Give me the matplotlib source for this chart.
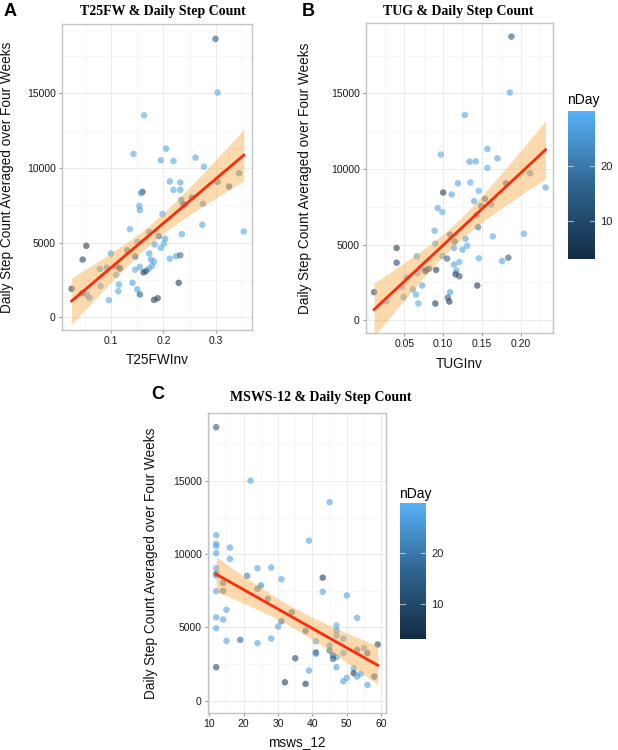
import numpy as np
import matplotlib
matplotlib.use("Agg")
import matplotlib.pyplot as plt
from matplotlib.colors import LinearSegmentedColormap, Normalize
from matplotlib.colorbar import ColorbarBase

plt.rcParams['font.family'] = ['Liberation Sans', 'DejaVu Sans']

# Panel A: T25FW inverse vs daily step count
t25_x = [0.299, 0.303, 0.163, 0.205, 0.143, 0.195, 0.219, 0.261, 0.277, 0.212,
         0.232, 0.219, 0.232, 0.160, 0.157, 0.234, 0.303, 0.344, 0.325, 0.254,
         0.236, 0.240, 0.275, 0.154, 0.155, 0.198, 0.274, 0.136, 0.353, 0.235,
         0.173, 0.191, 0.203, 0.201, 0.183, 0.195, 0.151, 0.053, 0.100, 0.046,
         0.146, 0.173, 0.176, 0.212, 0.224, 0.232, 0.182, 0.178, 0.172, 0.167,
         0.162, 0.155, 0.146, 0.117, 0.110, 0.110, 0.092, 0.079, 0.131, 0.115,
         0.114, 0.141, 0.150, 0.155, 0.080, 0.096, 0.182, 0.189, 0.229, 0.025,
         0.045, 0.054, 0.059]
t25_y = [18650, 15056, 13530, 11300, 10940, 10520, 10470, 10700, 10090, 9100,
         9030, 8540, 8540, 8400, 8310, 7870, 9080, 9660, 8760, 8020,
         7600, 7550, 7600, 7460, 7170, 6920, 6200, 5910, 5750, 5570,
         5710, 5440, 5260, 4940, 4880, 4650, 5060, 4790, 4270, 3870,
         4070, 4270, 3870, 3930, 4090, 4160, 3730, 3440, 3260, 3100,
         3010, 3370, 3190, 3280, 3420, 2850, 3330, 3240, 4490, 2200,
         1750, 2310, 1870, 1530, 2090, 1150, 1170, 1280, 2310, 1910,
         1620, 1530, 1300]
t25_n = [12, 27, 28, 27, 28, 27, 28, 27, 28, 27,
         27, 28, 27, 6, 27, 22, 18, 22, 14, 16,
         27, 15, 24, 28, 27, 28, 27, 28, 28, 28,
         24, 16, 27, 28, 27, 28, 26, 6, 27, 8,
         14, 27, 27, 28, 26, 16, 28, 27, 28, 14,
         6, 27, 28, 6, 18, 27, 24, 26, 18, 27,
         28, 27, 27, 12, 27, 28, 6, 8, 5, 8,
         14, 27, 28]

# Panel B: TUG inverse vs daily step count
tug_x = [0.188, 0.186, 0.128, 0.157, 0.097, 0.134, 0.142, 0.170, 0.157, 0.119,
         0.135, 0.181, 0.212, 0.232, 0.100, 0.111, 0.146, 0.140, 0.154, 0.149,
         0.162, 0.093, 0.099, 0.143, 0.204, 0.145, 0.089, 0.164, 0.109, 0.129,
         0.090, 0.115, 0.131, 0.125, 0.114, 0.040, 0.040, 0.099, 0.105, 0.146,
         0.176, 0.184, 0.066, 0.071, 0.079, 0.077, 0.091, 0.067, 0.053, 0.114,
         0.121, 0.117, 0.116, 0.121, 0.047, 0.073, 0.061, 0.065, 0.049, 0.027,
         0.011, 0.068, 0.090, 0.109, 0.106, 0.108, 0.144, 0.082]
tug_y = [18750, 15050, 13560, 11320, 10950, 10480, 10500, 10700, 10070, 9050,
         9100, 9050, 9710, 8770, 8440, 8310, 8550, 7870, 8020, 7540,
         7650, 7410, 7140, 6950, 5710, 6150, 5910, 5540, 5650, 5380,
         5050, 5210, 4920, 4660, 4770, 4770, 3800, 4240, 4070, 4090,
         3910, 4130, 4220, 3450, 3360, 3250, 3320, 3100, 2790, 3670,
         3850, 3270, 3030, 2900, 2200, 2290, 2040, 1690, 1520, 1250,
         1850, 1100, 1100, 1850, 1490, 1230, 2290, 3400]
tug_n = [12, 27, 27, 27, 28, 27, 27, 27, 28, 27,
         28, 16, 22, 27, 6, 27, 29, 27, 16, 18,
         26, 27, 28, 20, 28, 18, 27, 28, 16, 27,
         27, 16, 28, 27, 27, 6, 8, 27, 14, 28,
         27, 12, 27, 27, 26, 5, 6, 27, 24, 27,
         28, 27, 6, 12, 28, 27, 27, 28, 27, 27,
         8, 28, 6, 27, 12, 5, 5, 16]

# Panel C: MSWS-12 vs daily step count
msws_x = [12, 22, 45, 12, 12, 12, 12, 16, 16, 39,
          12, 12, 12, 21, 24, 28, 31, 43, 43, 14,
          14, 12, 24, 25, 27, 15, 12, 14, 12, 15,
          19, 24, 28, 30, 31, 34, 38, 12, 32, 35,
          38, 39, 41, 41, 41, 47, 47, 47, 49, 45,
          45, 46, 47, 46, 47, 49, 50, 53, 53, 55,
          56, 59, 52, 52, 53, 54, 50, 49, 58, 56]
msws_y = [18680, 15030, 13550, 11300, 10710, 10550, 10070, 10460, 9680, 10930,
          9040, 8660, 8540, 8520, 9040, 9090, 8290, 8400, 7430, 8040,
          7490, 7470, 7630, 7860, 6950, 6200, 5690, 5540, 4940, 4080,
          4150, 3920, 4240, 5060, 5420, 6040, 4760, 2280, 1250, 2890,
          1140, 2050, 4050, 3280, 3190, 5130, 4790, 4440, 4220, 3760,
          3420, 3080, 2960, 2850, 2280, 3240, 7180, 5650, 3460, 3600,
          3240, 3830, 2210, 1870, 1640, 1820, 1550, 1320, 1640, 1070]
msws_n = [12, 27, 27, 27, 27, 28, 26, 27, 27, 27,
          27, 18, 27, 20, 27, 27, 27, 6, 27, 18,
          20, 27, 20, 22, 20, 27, 27, 27, 27, 27,
          16, 27, 27, 27, 18, 18, 14, 8, 6, 8,
          6, 27, 27, 5, 27, 28, 27, 27, 27, 27,
          16, 14, 27, 14, 27, 27, 27, 27, 18, 27,
          14, 8, 27, 6, 27, 27, 27, 27, 12, 27]

ylabel = "Daily Step Count Averaged over Four Weeks"
ylim = (-850, 19650)

# ggplot default continuous colour scale
cmap = LinearSegmentedColormap.from_list("gg", ["#132B43", "#30658F", "#56B1F7"])
nmin = 3
nmax = 30
norm = Normalize(vmin=nmin, vmax=nmax)

W, H = 618, 750
fig = plt.figure(figsize=(W / 100, H / 100), dpi=100)


def box(l, t, r, b):
    return [l / W, 1 - b / H, (r - l) / W, (b - t) / H]


def panel(rect, x, y, n, xlim, xmajor, xminor, xlabels, xname, title, letter,
          title_xy, letter_xy, ylab_x, xlab_y):
    ax = fig.add_axes(box(*rect))
    x = np.array(x, float)
    y = np.array(y, float)
    ax.scatter(x, y, c=n, cmap=cmap, norm=norm, s=22, alpha=0.58,
               edgecolors='none', zorder=2)

    # linear fit with 95% confidence band
    k = len(x)
    b1, b0 = np.polyfit(x, y, 1)
    xs = np.linspace(x.min(), x.max(), 100)
    ys = b0 + b1 * xs
    resid = y - (b0 + b1 * x)
    s = np.sqrt(np.sum(resid ** 2) / (k - 2))
    se = s * np.sqrt(1 / k + (xs - x.mean()) ** 2 / np.sum((x - x.mean()) ** 2))
    ax.fill_between(xs, ys - 1.995 * se, ys + 1.995 * se, color='#FBA83C',
                    alpha=0.42, linewidth=0, zorder=3)
    ax.plot(xs, ys, color='#FF2A0A', lw=2, zorder=4)

    ax.set_xlim(*xlim)
    ax.set_ylim(*ylim)
    ax.set_xticks(xmajor)
    ax.set_xticklabels(xlabels)
    ax.set_xticks(xminor, minor=True)
    ax.set_yticks([0, 5000, 10000, 15000])
    ax.set_yticks([2500, 7500, 12500, 17500], minor=True)
    ax.grid(True, which='major', color='#EBEBEB', lw=0.7, zorder=0)
    ax.grid(True, which='minor', color='#F4F4F4', lw=0.5, zorder=0)
    ax.set_axisbelow(True)
    ax.tick_params(which='major', length=2.5, width=0.8, color='#999999',
                   labelsize=7.5, labelcolor='#1a1a1a', pad=2)
    ax.tick_params(which='minor', length=0)
    for sp in ax.spines.values():
        sp.set_color('#C4C4C4')
        sp.set_linewidth(1.0)
    ax.set_ylabel(ylabel, fontsize=9.8, color='#111111')
    ax.yaxis.set_label_coords((ylab_x - rect[0]) / (rect[2] - rect[0]), 0.5)
    ax.set_xlabel(xname, fontsize=9.8, color='#111111')
    ax.xaxis.set_label_coords(0.5, (rect[3] - xlab_y) / (rect[3] - rect[1]))
    fig.text(title_xy[0] / W, 1 - title_xy[1] / H, title, ha='center',
             va='center', fontsize=10, fontweight='bold',
             family='Liberation Serif')
    fig.text(letter_xy[0] / W, 1 - letter_xy[1] / H, letter, ha='left',
             va='center', fontsize=13, fontweight='bold')
    return ax


def legend_bar(rect, title_xy):
    cax = fig.add_axes(box(*rect))
    cb = ColorbarBase(cax, cmap=cmap, norm=norm, orientation='vertical')
    cb.outline.set_visible(False)
    cb.set_ticks([10, 20])
    cax.tick_params(length=0, labelsize=8, labelcolor='#222222', pad=4)
    for v in [10, 20]:
        cax.plot([0, 0.18], [v, v], color='white', lw=0.8, alpha=0.6,
                 transform=cax.get_yaxis_transform())
        cax.plot([0.82, 1], [v, v], color='white', lw=0.8, alpha=0.6,
                 transform=cax.get_yaxis_transform())
    fig.text(title_xy[0] / W, 1 - title_xy[1] / H, "nDay", ha='left',
             va='center', fontsize=10)


panel((62, 24, 252, 330), t25_x, t25_y, t25_n, (0.0067, 0.3686),
      [0.1, 0.2, 0.3], [0.05, 0.15, 0.25, 0.35], ["0.1", "0.2", "0.3"],
      "T25FWInv", "T25FW & Daily Step Count", "A", (163, 11), (4, 11),
      14, 353)

panel((366, 23, 553, 333), tug_x, tug_y, tug_n, (0.0006, 0.2416),
      [0.05, 0.10, 0.15, 0.20], [0.025, 0.075, 0.125, 0.175, 0.225],
      ["0.05", "0.10", "0.15", "0.20"],
      "TUGInv", "TUG & Daily Step Count", "B", (458, 11), (302, 11),
      312, 357)

panel((208, 413, 386, 713), msws_x, msws_y, msws_n, (9.62, 61.4),
      [10, 20, 30, 40, 50, 60], [15, 25, 35, 45, 55],
      ["10", "20", "30", "40", "50", "60"],
      "msws_12", "MSWS-12 & Daily Step Count", "C", (321, 397), (151, 395),
      158, 735)

legend_bar((568, 111, 595, 259), (567, 100))
legend_bar((400, 503, 426, 639), (399, 494))

fig.savefig("out.png", dpi=100)
